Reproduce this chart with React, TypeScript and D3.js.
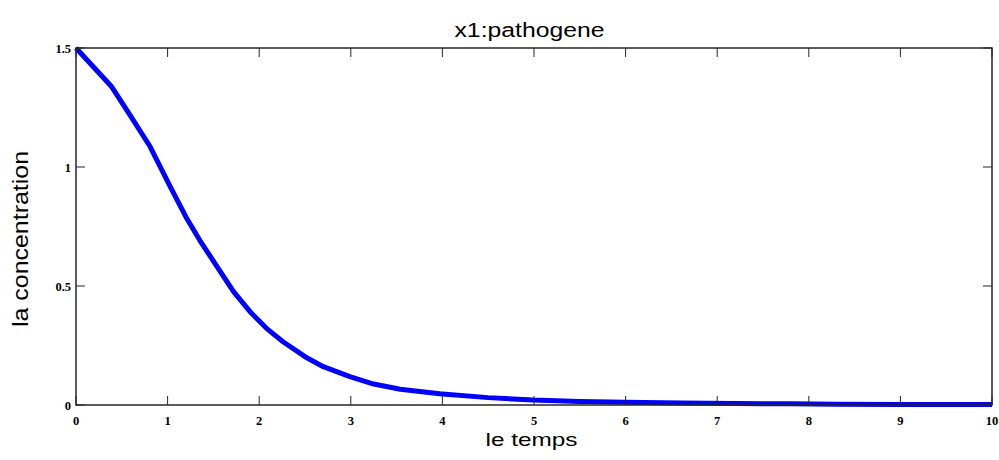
import React from "react";
import * as d3 from "d3";

const timeValues = [0, 0.39, 0.59, 0.81, 1.03, 1.2, 1.35, 1.54, 1.72, 1.9, 2.08, 2.26, 2.5, 2.7, 2.99, 3.25, 3.54, 3.97, 4.5, 4.99, 5.5, 6.0, 6.6, 7.2, 7.8, 8.3, 9.0, 10];
const concentration = [1.5, 1.337, 1.218, 1.085, 0.917, 0.79, 0.693, 0.581, 0.476, 0.392, 0.322, 0.266, 0.203, 0.161, 0.119, 0.088, 0.066, 0.047, 0.031, 0.021, 0.015, 0.012, 0.008, 0.006, 0.005, 0.003, 0.002, 0.002];
const xTicks = [0, 1, 2, 3, 4, 5, 6, 7, 8, 9, 10];
const yTicks = [0, 0.5, 1, 1.5];
const yTickLabels = ["0", "0.5", "1", "1.5"];

const W = 999, H = 460;
const M = { left: 76, right: 992, top: 48, bottom: 405 };

export default function App() {
  const x = d3.scaleLinear().domain([0, 10]).range([M.left, M.right]);
  const y = d3.scaleLinear().domain([0, 1.5]).range([M.bottom, M.top]);
  const line = d3.line<number>().x((_, i) => x(timeValues[i])).y((d) => y(d));
  const path = line(concentration) || "";
  const tickLen = 9;
  const axisColor = "#262626";
  const tickFont = { fontFamily: "'Liberation Serif', serif", fontWeight: 700, fontSize: 12.5 } as const;
  const labelFont = "'Liberation Sans', Arial, sans-serif";
  return (
    <svg width={W} height={H} style={{ position: "absolute", left: 0, top: 0, background: "#fff" }}>
      <rect x={0} y={0} width={W} height={H} fill="#fff" />
      <path d={path} fill="none" stroke="#0000ff" strokeWidth={5} strokeLinejoin="round" />
      <rect x={M.left} y={M.top} width={M.right - M.left} height={M.bottom - M.top} fill="none" stroke={axisColor} strokeWidth={1.5} />
      {xTicks.map((t) => (
        <g key={"x" + t}>
          <line x1={x(t)} x2={x(t)} y1={M.bottom} y2={M.bottom - tickLen} stroke={axisColor} strokeWidth={1} />
          <line x1={x(t)} x2={x(t)} y1={M.top} y2={M.top + tickLen} stroke={axisColor} strokeWidth={1} />
          <text x={x(t)} y={M.bottom + 20} textAnchor="middle" style={tickFont} fill="#000">{t}</text>
        </g>
      ))}
      {yTicks.map((v, i) => (
        <g key={"y" + v}>
          <line x1={M.left} x2={M.left + tickLen} y1={y(v)} y2={y(v)} stroke={axisColor} strokeWidth={1} />
          <line x1={M.right} x2={M.right - tickLen} y1={y(v)} y2={y(v)} stroke={axisColor} strokeWidth={1} />
          <text x={M.left - 5} y={y(v) + 5} textAnchor="end" style={tickFont} fill="#000">{yTickLabels[i]}</text>
        </g>
      ))}
      <text x={529.5} y={37} textAnchor="middle" fontFamily={labelFont} fontSize={20} textLength={150} lengthAdjust="spacingAndGlyphs" fill="#000">x1:pathogene</text>
      <text x={531.5} y={446} textAnchor="middle" fontFamily={labelFont} fontSize={19} textLength={92} lengthAdjust="spacingAndGlyphs" fill="#000">le temps</text>
      <text transform={`translate(28, 239) rotate(-90)`} textAnchor="middle" fontFamily={labelFont} fontSize={22} textLength={176} lengthAdjust="spacingAndGlyphs" fill="#000">la concentration</text>
    </svg>
  );
}
